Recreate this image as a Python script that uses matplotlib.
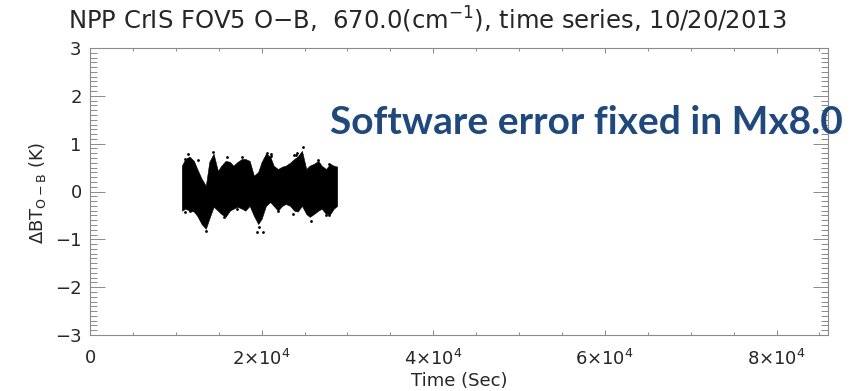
import numpy as np
import matplotlib
matplotlib.use("Agg")
import matplotlib.pyplot as plt
from matplotlib.ticker import MultipleLocator, FixedLocator, FixedFormatter

# 时间序列包络: 时间(秒), 上沿, 下沿 (K)
time_sec = [10700, 11100, 11600, 12100, 12500, 13000, 13500, 13900, 14400, 14900,
            15300, 15800, 16300, 16700, 17200, 17700, 18100, 18600, 19100, 19600,
            20000, 20500, 21000, 21400, 21900, 22400, 22800, 23300, 23800, 24200,
            24700, 25200, 25600, 26100, 26600, 27000, 27500, 28000, 28400, 28800]
omb_upper = [0.54, 0.68, 0.73, 0.64, 0.47, 0.27, 0.12, 0.62, 0.79, 0.43,
             0.54, 0.64, 0.62, 0.54, 0.62, 0.68, 0.68, 0.64, 0.33, 0.41,
             0.62, 0.79, 0.73, 0.54, 0.47, 0.52, 0.54, 0.60, 0.68, 0.73,
             0.85, 0.47, 0.54, 0.58, 0.64, 0.54, 0.47, 0.58, 0.54, 0.52]
omb_lower = [-0.40, -0.36, -0.40, -0.42, -0.51, -0.68, -0.78, -0.57, -0.32, -0.40,
             -0.47, -0.53, -0.40, -0.36, -0.32, -0.36, -0.40, -0.30, -0.51, -0.68,
             -0.57, -0.30, -0.22, -0.30, -0.40, -0.30, -0.26, -0.30, -0.40, -0.42,
             -0.30, -0.47, -0.53, -0.47, -0.40, -0.36, -0.47, -0.47, -0.36, -0.30]

# 离散的外围点
outlier_t = [11440, 14360, 13460, 19670, 20140, 24780, 24100, 20600, 21080,
             23770, 25750, 27860, 11120, 15570,
             11040, 12610, 11710, 12680, 16000, 15730, 17760, 17170, 19510,
             21850, 21070, 24000, 26540, 23610, 27510, 27900]
outlier_v = [0.79, 0.83, -0.82, -0.74, -0.84, 0.94, 0.81, 0.81, 0.79,
             0.77, -0.61, -0.49, -0.43, -0.53,
             0.67, 0.65, -0.40, -0.47, 0.72, -0.50, 0.72, -0.36, -0.84,
             -0.40, 0.75, 0.77, 0.65, -0.47, -0.50, 0.58]

xticks = [0, 20000, 40000, 60000, 80000]
xtick_labels = ['0', r'2$\times$10$^4$', r'4$\times$10$^4$', r'6$\times$10$^4$', r'8$\times$10$^4$']
yticks = [-3, -2, -1, 0, 1, 2, 3]

axis_gray = '#8a8a8a'
text_col = '#262626'

plt.rcParams['font.family'] = ['DejaVu Sans']
plt.rcParams['mathtext.fontset'] = 'dejavusans'

fig = plt.figure(figsize=(8.56, 3.91), dpi=100)
ax = fig.add_axes([90 / 856, 56 / 391, 738 / 856, 287 / 391])

# 绘制数据云
ax.fill_between(time_sec, omb_lower, omb_upper, color='black', lw=0.4)
ax.scatter(outlier_t, outlier_v, s=4, color='black', lw=0)

ax.set_xlim(0, 86000)
ax.set_ylim(-3, 3)

ax.xaxis.set_major_locator(FixedLocator(xticks))
ax.xaxis.set_major_formatter(FixedFormatter(xtick_labels))
ax.xaxis.set_minor_locator(MultipleLocator(5000))
ax.yaxis.set_major_locator(FixedLocator(yticks))
ax.yaxis.set_minor_locator(MultipleLocator(0.1))

for sp in ax.spines.values():
    sp.set_color(axis_gray)
    sp.set_linewidth(0.8)

ax.tick_params(which='both', direction='in', top=True, right=True,
               color=axis_gray, width=0.7, labelcolor=text_col, labelsize=13)
ax.tick_params(axis='x', which='major', length=3.6, pad=10)
ax.tick_params(axis='x', which='minor', length=2)
ax.tick_params(axis='y', which='major', length=10.8, pad=6)
ax.tick_params(axis='y', which='minor', length=5)

# 标题和坐标轴标签
fig.text(0.4994, 1 - 29.5 / 391, u'NPP CrIS FOV5 O\u2212B,  670.0(cm$^{-1}$), time series, 10/20/2013',
         ha='center', va='baseline', fontsize=17.5, color=text_col)
fig.text(37 / 856, 1 - 193 / 391, r'$\Delta$BT$_{\mathrm{O-B}}$ (K)', rotation=90,
         ha='center', va='center', fontsize=13, color=text_col)
fig.text(459 / 856, 1 - 381 / 391, 'Time (Sec)', ha='center', va='center',
         fontsize=13, color=text_col)

# 注释
fig.text(586 / 856, 1 - 134.5 / 391, 'Software error fixed in Mx8.0', ha='center', va='baseline',
         fontsize=28, fontweight='bold', family=['Lato', 'DejaVu Sans'], color='#1F497D')

plt.savefig('out.png', dpi=100)
plt.close()
